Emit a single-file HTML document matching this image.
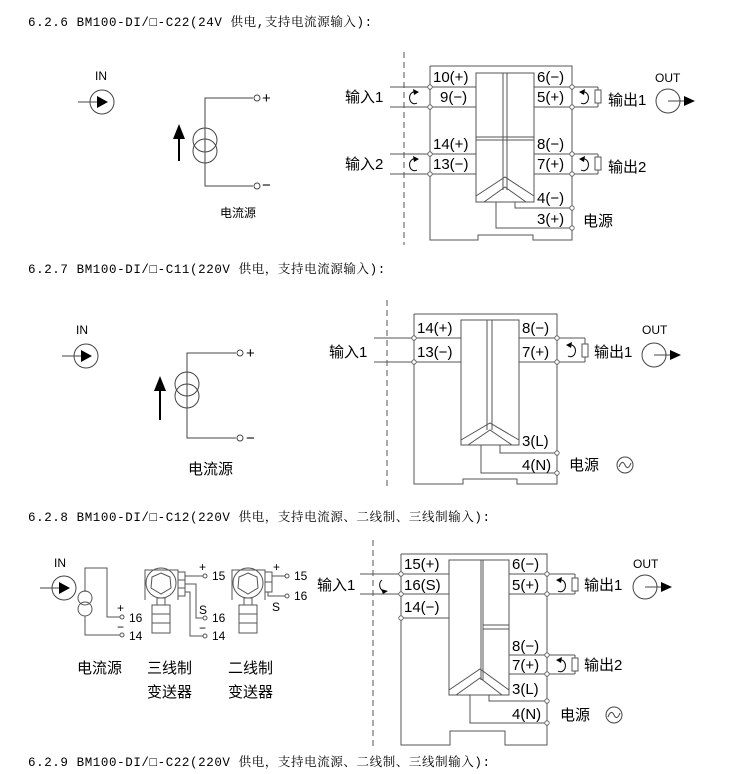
<!DOCTYPE html>
<html><head><meta charset="utf-8"><style>
html,body{margin:0;padding:0;background:#fff;}
svg{display:block;}
.t{font-family:"Liberation Mono","Noto Serif CJK SC",monospace;font-size:12.5px;letter-spacing:0.6px;fill:#000;}
.l{font-family:"Liberation Sans","Noto Sans CJK SC",sans-serif;font-size:15px;fill:#000;}
.s{font-family:"Liberation Sans","Noto Sans CJK SC",sans-serif;font-size:12px;fill:#000;}
</style></head><body>
<svg width="730" height="774" viewBox="0 0 730 774" xmlns="http://www.w3.org/2000/svg">
<defs>
<g id="dot"><circle r="2.2" fill="#fff" stroke="#555" stroke-width="0.8"/></g>
<g id="loopL"><path d="M3,-5 A5,6 0 1 0 4,6" fill="none" stroke="#000" stroke-width="1"/><path d="M0,-8 L6,-5 L1,-2Z" fill="#000"/></g>
<g id="loopR"><path d="M-3,-5 A5,6 0 1 1 -4,6" fill="none" stroke="#000" stroke-width="1"/><path d="M0,-8 L-6,-5 L-1,-2Z" fill="#000"/></g>
</defs>

<!-- ============ Section 1 ============ -->
<text class="t" x="28" y="26">6.2.6  BM100-DI/□-C22(24V 供电,支持电流源输入):</text>
<text class="s" x="95" y="80" font-size="13">IN</text>
<circle cx="102" cy="102" r="12" fill="none" stroke="#444"/>
<line x1="78" y1="102" x2="102" y2="102" stroke="#444"/>
<path d="M97,96 L108,102 L97,108Z"/>
<g stroke="#444" fill="none">
<polyline points="253,98 205,98 205,186 253,186"/>
<circle cx="205" cy="140" r="12"/><circle cx="205" cy="151" r="12"/>
<circle cx="257" cy="98" r="3"/><circle cx="257" cy="186" r="3"/>
</g>
<line x1="179" y1="161" x2="179" y2="135" stroke="#000" stroke-width="2"/>
<path d="M173,139 L179,124 L185,139Z"/>
<text class="l" x="262" y="103" font-size="14">+</text>
<text class="l" x="262" y="190" font-size="14">−</text>
<text class="s" x="220" y="217">电流源</text>

<line x1="404" y1="52" x2="404" y2="245" stroke="#555" stroke-dasharray="6,4"/>
<g stroke="#555" fill="none">
<polyline points="430,66 572,66 572,240 533,240 533,235 478,235 478,240 430,240 430,66"/>
<rect x="476" y="73" width="58" height="129"/>
<line x1="503" y1="73" x2="503" y2="190"/><line x1="507" y1="73" x2="507" y2="190"/>
<line x1="476" y1="137" x2="534" y2="137"/><line x1="476" y1="140" x2="534" y2="140"/>
<polyline points="476,196 505,177 534,196"/><polyline points="484,202 505,187 526,202"/>
<line x1="390" y1="87" x2="476" y2="87"/><line x1="390" y1="107" x2="476" y2="107"/>
<line x1="390" y1="154" x2="476" y2="154"/><line x1="390" y1="174" x2="476" y2="174"/>
<line x1="534" y1="87" x2="598" y2="87"/><line x1="534" y1="107" x2="598" y2="107"/>
<line x1="598" y1="87" x2="598" y2="107"/>
<line x1="534" y1="154" x2="598" y2="154"/><line x1="534" y1="174" x2="598" y2="174"/>
<line x1="598" y1="154" x2="598" y2="174"/>
<polyline points="515,202 515,208 572,208"/><polyline points="496,202 496,228 572,228"/>
<rect x="595" y="90" width="6" height="13" fill="#fff"/>
<rect x="595" y="157" width="6" height="13" fill="#fff"/>
</g>
<use href="#dot" x="430" y="87"/><use href="#dot" x="430" y="107"/><use href="#dot" x="430" y="154"/><use href="#dot" x="430" y="174"/>
<use href="#dot" x="572" y="87"/><use href="#dot" x="572" y="107"/><use href="#dot" x="572" y="154"/><use href="#dot" x="572" y="174"/>
<use href="#dot" x="572" y="208"/><use href="#dot" x="572" y="228"/>
<use href="#loopL" x="413" y="97"/><use href="#loopL" x="413" y="164"/>
<use href="#loopR" x="585" y="97"/><use href="#loopR" x="585" y="164"/>
<text class="l" x="433" y="82">10(+)</text><text class="l" x="440" y="102">9(−)</text>
<text class="l" x="433" y="149">14(+)</text><text class="l" x="433" y="169">13(−)</text>
<text class="l" x="537" y="82">6(−)</text><text class="l" x="537" y="102">5(+)</text>
<text class="l" x="537" y="149">8(−)</text><text class="l" x="537" y="169">7(+)</text>
<text class="l" x="537" y="203">4(−)</text><text class="l" x="537" y="224">3(+)</text>
<text class="l" x="345" y="102">输入1</text><text class="l" x="345" y="169">输入2</text>
<text class="l" x="608" y="105">输出1</text><text class="l" x="608" y="172">输出2</text>
<text class="l" x="583" y="226">电源</text>
<text class="s" x="655" y="82" font-size="13">OUT</text>
<circle cx="668" cy="101" r="12" fill="none" stroke="#444"/>
<line x1="668" y1="101" x2="686" y2="101" stroke="#444"/><path d="M684,96 L695,101 L684,106Z"/>

<!-- ============ Section 2 ============ -->
<text class="t" x="28" y="273">6.2.7  BM100-DI/□-C11(220V 供电，支持电流源输入):</text>
<text class="s" x="76" y="334" font-size="13">IN</text>
<circle cx="86" cy="356" r="12" fill="none" stroke="#444"/>
<line x1="62" y1="356" x2="86" y2="356" stroke="#444"/>
<path d="M81,350 L92,356 L81,362Z"/>
<g stroke="#444" fill="none">
<polyline points="236,353 187,353 187,438 236,438"/>
<circle cx="187" cy="384" r="12"/><circle cx="187" cy="396" r="12"/>
<circle cx="240" cy="353" r="3"/><circle cx="240" cy="438" r="3"/>
</g>
<line x1="160" y1="420" x2="160" y2="388" stroke="#000" stroke-width="2"/>
<path d="M154,391 L160,376 L166,391Z"/>
<text class="l" x="246" y="358" font-size="14">+</text>
<text class="l" x="246" y="443" font-size="14">−</text>
<text class="l" x="188" y="474">电流源</text>

<line x1="387" y1="300" x2="387" y2="490" stroke="#555" stroke-dasharray="6,4"/>
<g stroke="#555" fill="none">
<polyline points="414,314 557,314 557,484 517,484 517,479 463,479 463,484 414,484 414,314"/>
<rect x="461" y="320" width="58" height="125"/>
<line x1="487" y1="320" x2="487" y2="430"/><line x1="492" y1="320" x2="492" y2="430"/>
<polyline points="461,440 490,423 519,440"/><polyline points="468,445 490,430 512,445"/>
<line x1="374" y1="338" x2="461" y2="338"/><line x1="374" y1="362" x2="461" y2="362"/>
<line x1="519" y1="338" x2="585" y2="338"/><line x1="519" y1="362" x2="585" y2="362"/>
<line x1="585" y1="338" x2="585" y2="362"/>
<polyline points="500,445 500,453 557,453"/><polyline points="481,445 481,473 557,473"/>
<rect x="582" y="344" width="6" height="13" fill="#fff"/>
</g>
<use href="#dot" x="414" y="338"/><use href="#dot" x="414" y="362"/>
<use href="#dot" x="557" y="338"/><use href="#dot" x="557" y="362"/>
<use href="#dot" x="557" y="453"/><use href="#dot" x="557" y="473"/>
<use href="#loopR" x="572" y="350"/>
<text class="l" x="417" y="333">14(+)</text><text class="l" x="417" y="357">13(−)</text>
<text class="l" x="522" y="333">8(−)</text><text class="l" x="522" y="357">7(+)</text>
<text class="l" x="522" y="446">3(L)</text><text class="l" x="522" y="470">4(N)</text>
<text class="l" x="329" y="357">输入1</text>
<text class="l" x="594" y="357">输出1</text>
<text class="l" x="569" y="470">电源</text>
<circle cx="625" cy="465" r="8" fill="none" stroke="#444"/>
<path d="M619,467 Q622,459 625,465 Q628,471 631,463" fill="none" stroke="#444"/>
<text class="s" x="642" y="334" font-size="13">OUT</text>
<circle cx="654" cy="355" r="12" fill="none" stroke="#444"/>
<line x1="654" y1="355" x2="672" y2="355" stroke="#444"/><path d="M670,350 L681,355 L670,360Z"/>

<!-- ============ Section 3 ============ -->
<text class="t" x="28" y="521">6.2.8  BM100-DI/□-C12(220V 供电，支持电流源、二线制、三线制输入):</text>
<text class="s" x="54" y="567" font-size="13">IN</text>
<circle cx="64" cy="588" r="12" fill="none" stroke="#444"/>
<line x1="40" y1="588" x2="64" y2="588" stroke="#444"/>
<path d="M59,582 L70,588 L59,594Z"/>
<g stroke="#555" fill="none">
<polyline points="85,592 85,568 107,568 107,617 120,617"/>
<polyline points="85,616 85,635 120,635"/>
<circle cx="85" cy="598" r="7"/><circle cx="85" cy="609" r="7"/>
<circle cx="122" cy="617" r="2"/><circle cx="122" cy="635" r="2"/>
<path d="M145,600 L145,570 L178,570 L178,600"/>
<circle cx="161" cy="583" r="15"/>
<polygon points="161,573 170,577 171,588 161,594 151,588 152,577"/>
<rect x="157" y="598" width="8" height="7"/>
<rect x="152" y="605" width="18" height="28"/>
<line x1="152" y1="614" x2="170" y2="614"/><line x1="152" y1="623" x2="170" y2="623"/>
<rect x="178" y="572" width="7" height="8"/><rect x="178" y="580" width="7" height="8"/><rect x="178" y="588" width="7" height="8"/>
<polyline points="185,576 203,576"/>
<polyline points="185,584 196,584 196,618 203,618"/>
<polyline points="185,592 190,592 190,636 203,636"/>
<circle cx="205" cy="576" r="2"/><circle cx="205" cy="618" r="2"/><circle cx="205" cy="636" r="2"/>
<path d="M232,600 L232,570 L265,570 L265,600"/>
<circle cx="248" cy="583" r="15"/>
<polygon points="248,573 257,577 258,588 248,594 238,588 239,577"/>
<rect x="244" y="598" width="8" height="7"/>
<rect x="239" y="605" width="18" height="28"/>
<line x1="239" y1="614" x2="257" y2="614"/><line x1="239" y1="623" x2="257" y2="623"/>
<rect x="265" y="572" width="7" height="10"/><rect x="265" y="582" width="7" height="10"/>
<line x1="272" y1="576" x2="285" y2="576"/><line x1="272" y1="596" x2="285" y2="596"/>
<polyline points="268,592 268,596 272,596"/>
<circle cx="287" cy="576" r="2"/><circle cx="287" cy="596" r="2"/>
</g>
<text class="s" x="117" y="612" font-size="13">+</text><text class="s" x="129" y="622" font-size="11">16</text>
<text class="s" x="117" y="631" font-size="13">−</text><text class="s" x="129" y="640" font-size="11">14</text>
<text class="s" x="199" y="571" font-size="13">+</text><text class="s" x="212" y="580" font-size="11">15</text>
<text class="s" x="199" y="614" font-size="14">S</text><text class="s" x="212" y="622" font-size="11">16</text>
<text class="s" x="199" y="632" font-size="13">−</text><text class="s" x="212" y="640" font-size="11">14</text>
<text class="s" x="273" y="571" font-size="13">+</text><text class="s" x="294" y="580" font-size="11">15</text>
<text class="s" x="272" y="611" font-size="14">S</text><text class="s" x="294" y="600" font-size="11">16</text>
<text class="l" x="77" y="673">电流源</text>
<text class="l" x="147" y="673">三线制</text><text class="l" x="147" y="697">变送器</text>
<text class="l" x="228" y="673">二线制</text><text class="l" x="228" y="697">变送器</text>

<line x1="373" y1="540" x2="373" y2="750" stroke="#555" stroke-dasharray="6,4"/>
<g stroke="#555" fill="none">
<polyline points="401,554 547,554 547,745 505,745 505,731 450,731 450,745 401,745 401,554"/>
<rect x="449" y="560" width="60" height="135"/>
<line x1="481" y1="560" x2="481" y2="680"/><line x1="483" y1="560" x2="483" y2="680"/>
<line x1="483" y1="625" x2="509" y2="625"/><line x1="483" y1="629" x2="509" y2="629"/>
<polyline points="449,690 480,669 509,690"/><polyline points="456,695 480,678 502,695"/>
<line x1="360" y1="574" x2="449" y2="574"/><line x1="360" y1="594" x2="449" y2="594"/>
<line x1="401" y1="618" x2="449" y2="618"/>
<line x1="509" y1="574" x2="575" y2="574"/><line x1="509" y1="594" x2="575" y2="594"/>
<line x1="575" y1="574" x2="575" y2="594"/>
<line x1="509" y1="655" x2="575" y2="655"/><line x1="509" y1="674" x2="575" y2="674"/>
<line x1="575" y1="655" x2="575" y2="674"/>
<polyline points="489,695 489,701 547,701"/><polyline points="470,695 470,723 547,723"/>
<rect x="572" y="578" width="6" height="13" fill="#fff"/>
<rect x="572" y="658" width="6" height="13" fill="#fff"/>
</g>
<use href="#dot" x="401" y="574"/><use href="#dot" x="401" y="594"/><use href="#dot" x="401" y="618"/>
<use href="#dot" x="547" y="574"/><use href="#dot" x="547" y="594"/>
<use href="#dot" x="547" y="655"/><use href="#dot" x="547" y="674"/>
<use href="#dot" x="547" y="701"/><use href="#dot" x="547" y="723"/>
<path d="M382,580 A5,6 0 0 0 384,591" fill="none" stroke="#000"/><path d="M381,589 L388,591 L383,594Z"/>
<use href="#loopR" x="562" y="585"/><use href="#loopR" x="562" y="665"/>
<text class="l" x="404" y="569">15(+)</text><text class="l" x="404" y="590">16(S)</text><text class="l" x="404" y="612">14(−)</text>
<text class="l" x="512" y="569">6(−)</text><text class="l" x="512" y="590">5(+)</text>
<text class="l" x="512" y="651">8(−)</text><text class="l" x="512" y="670">7(+)</text>
<text class="l" x="512" y="694">3(L)</text><text class="l" x="512" y="719">4(N)</text>
<text class="l" x="317" y="590">输入1</text>
<text class="l" x="584" y="590">输出1</text><text class="l" x="584" y="670">输出2</text>
<text class="l" x="560" y="720">电源</text>
<circle cx="614" cy="715" r="8" fill="none" stroke="#444"/>
<path d="M608,717 Q611,709 614,715 Q617,721 620,713" fill="none" stroke="#444"/>
<text class="s" x="633" y="568" font-size="13">OUT</text>
<circle cx="645" cy="587" r="12" fill="none" stroke="#444"/>
<line x1="645" y1="587" x2="663" y2="587" stroke="#444"/><path d="M661,582 L672,587 L661,592Z"/>

<text class="t" x="28" y="766">6.2.9  BM100-DI/□-C22(220V 供电，支持电流源、二线制、三线制输入):</text>
</svg>
</body></html>
